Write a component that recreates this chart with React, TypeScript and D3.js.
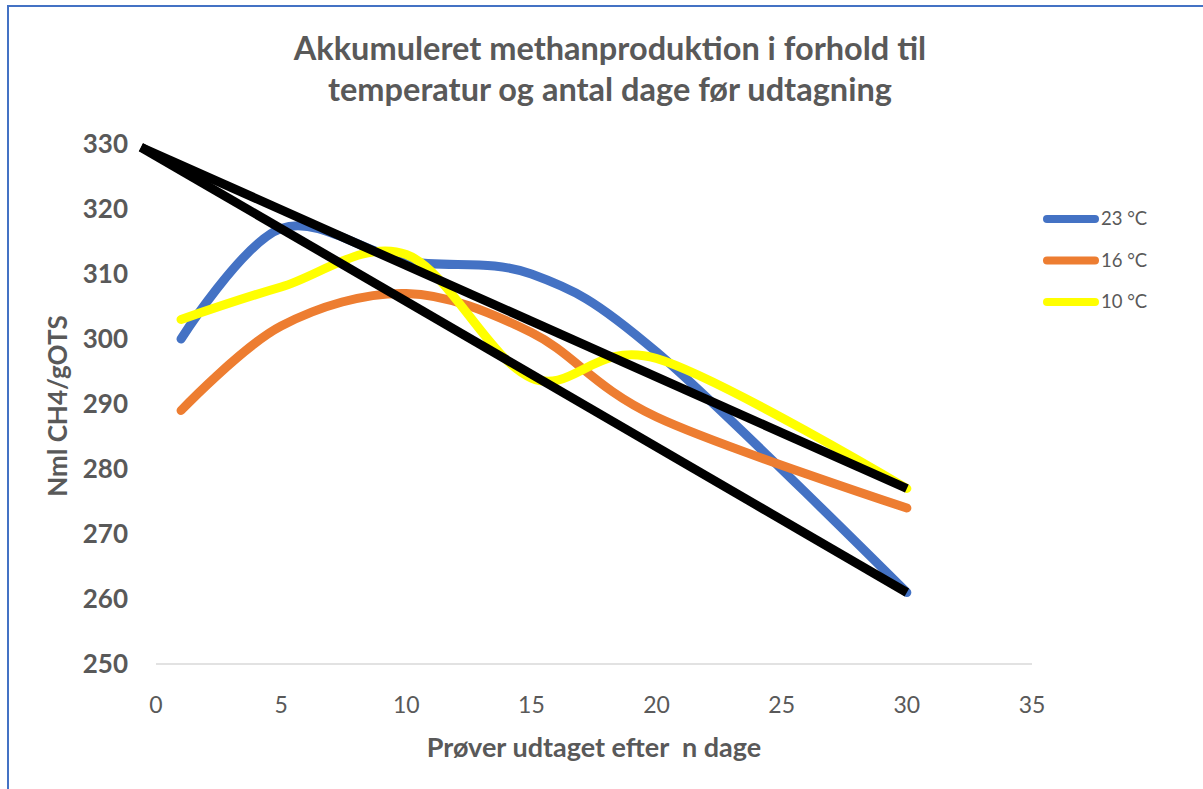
import React from "react";
import * as d3 from "d3";

const days23 = [1, 5, 10, 15, 20, 30];
const vals23 = [300, 317, 312, 310, 298, 261];
const days16 = [1, 5, 10, 15, 20, 30];
const vals16 = [289, 302, 307, 301, 288, 274];
const days10 = [1, 5, 10, 15, 20, 30];
const vals10 = [303, 308, 313, 294, 297, 277];
const trendDays = [-0.6, 30];
const trendLow = [329.5, 261];
const trendHigh = [329.5, 277];
const xTicks = [0, 5, 10, 15, 20, 25, 30, 35];
const yTicks = [250, 260, 270, 280, 290, 300, 310, 320, 330];
const seriesNames = ["23 °C", "16 °C", "10 °C"];
const seriesColors = ["#4472C4", "#ED7D31", "#FFFF00"];

const W = 1203;
const H = 789;
const FONT = "Lato, 'Open Sans', sans-serif";
const GREY = "#595959";

export default function App() {
  const x = d3.scaleLinear().domain([0, 35]).range([156, 1032]);
  const y = d3.scaleLinear().domain([250, 330]).range([664, 144]);
  const smooth = d3
    .line<[number, number]>()
    .x((d) => x(d[0]))
    .y((d) => y(d[1]))
    .curve(d3.curveCardinal.tension(0));
  const straight = d3
    .line<[number, number]>()
    .x((d) => x(d[0]))
    .y((d) => y(d[1]));
  const zip = (a: number[], b: number[]) => a.map((v, i) => [v, b[i]] as [number, number]);
  const series = [zip(days23, vals23), zip(days16, vals16), zip(days10, vals10)];
  const trends = [zip(trendDays, trendHigh), zip(trendDays, trendLow)];

  return (
    <div style={{ position: "absolute", left: 0, top: 0 }}>
      <svg width={W} height={H} style={{ display: "block", background: "#fff" }}>
        <rect x={0} y={0} width={W} height={H} fill="#fff" />
        {/* frame */}
        <line x1={8} y1={5} x2={8} y2={H} stroke="#4472C4" strokeWidth={2} />
        <line x1={7} y1={6} x2={W} y2={6} stroke="#4472C4" strokeWidth={2} />
        {/* title */}
        <text x={610} y={60} textAnchor="middle" fontFamily={FONT} fontWeight="bold" fontSize={32.5} fill={GREY}>
          Akkumuleret methanproduktion i forhold til
        </text>
        <text x={610} y={101} textAnchor="middle" fontFamily={FONT} fontWeight="bold" fontSize={32.5} fill={GREY}>
          temperatur og antal dage før udtagning
        </text>
        {/* axis line */}
        <line x1={x(0)} x2={x(35)} y1={y(250)} y2={y(250)} stroke="#D9D9D9" strokeWidth={1.5} />
        {/* y ticks */}
        {yTicks.map((t) => (
          <text key={t} x={128} y={y(t)} dy="0.35em" textAnchor="end" fontFamily={FONT} fontWeight="bold" fontSize={26} fill={GREY}>
            {t}
          </text>
        ))}
        {/* x ticks */}
        {xTicks.map((t) => (
          <text key={t} x={x(t)} y={705} dy="0.35em" textAnchor="middle" fontFamily={FONT} fontSize={23} fill={GREY}>
            {t}
          </text>
        ))}
        {/* axis titles */}
        <text x={594} y={748} dy="0.35em" textAnchor="middle" fontFamily={FONT} fontWeight="bold" fontSize={27} fill={GREY}>
          Prøver udtaget efter{"\u00a0\u00a0"}n dage
        </text>
        <text transform="translate(58,406) rotate(-90)" dy="0.35em" textAnchor="middle" fontFamily={FONT} fontWeight="bold" fontSize={26} fill={GREY}>
          Nml CH4/gOTS
        </text>
        {/* series */}
        {series.map((s, i) => (
          <path key={i} d={smooth(s) || ""} fill="none" stroke={seriesColors[i]} strokeWidth={9} strokeLinecap="round" strokeLinejoin="round" />
        ))}
        {trends.map((s, i) => (
          <path key={"t" + i} d={straight(s) || ""} fill="none" stroke="#000" strokeWidth={9} strokeLinecap="butt" />
        ))}
        {/* legend */}
        {seriesNames.map((n, i) => (
          <g key={n} transform={`translate(0,${219 + i * 41.5})`}>
            <line x1={1047} x2={1095} y1={0} y2={0} stroke={seriesColors[i]} strokeWidth={8} strokeLinecap="round" />
            <text x={1101} y={0} dy="0.35em" fontFamily={FONT} fontSize={18.5} fill={GREY}>
              {n}
            </text>
          </g>
        ))}
      </svg>
    </div>
  );
}
